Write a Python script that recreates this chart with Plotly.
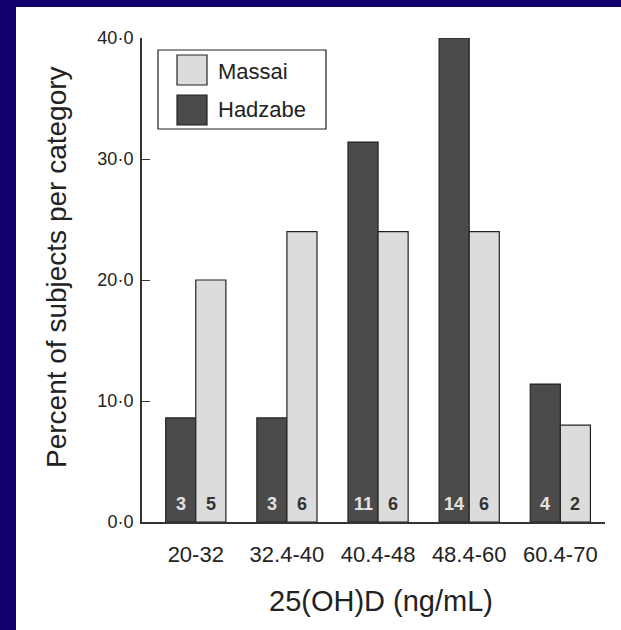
import plotly.graph_objects as go

# Vitamin D distribution by category
categories = ["20-32", "32.4-40", "40.4-48", "48.4-60", "60.4-70"]
hadzabe_pct = [8.6, 8.6, 31.4, 40.0, 11.4]
massai_pct = [20.0, 24.0, 24.0, 24.0, 8.0]
hadzabe_n = [3, 3, 11, 14, 4]
massai_n = [5, 6, 6, 6, 2]
y_ticks = [0, 10, 20, 30, 40]
y_ticklabels = ["0·0", "10·0", "20·0", "30·0", "40·0"]

W, H = 621, 630
ML, MR, MT, MB = 142, 16, 38, 108
PW, PH = W - ML - MR, H - MT - MB

def px_x(px):
    return (px - ML) / PW

def px_y(py):
    return (H - MB - py) / PH

DARK = "#4b4b4b"
LIGHT = "#dcdcdc"
EDGE = "#222222"
NAVY = "#14006c"
FONT = "Liberation Sans, Arial, sans-serif"
BARGAP = 0.34
BAR_W = (1 - BARGAP) / 2

xs = list(range(len(categories)))

fig = go.Figure()
fig.add_trace(go.Bar(
    x=xs, y=hadzabe_pct, name="Hadzabe",
    marker=dict(color=DARK, line=dict(color=EDGE, width=1.2)),
))
fig.add_trace(go.Bar(
    x=xs, y=massai_pct, name="Massai",
    marker=dict(color=LIGHT, line=dict(color=EDGE, width=1.2)),
))

shapes = []
# navy frame strips along top and left
shapes.append(dict(type="rect", xref="paper", yref="paper",
                   x0=px_x(0), x1=px_x(16), y0=px_y(0), y1=px_y(H),
                   fillcolor=NAVY, line=dict(width=0), layer="below"))
shapes.append(dict(type="rect", xref="paper", yref="paper",
                   x0=px_x(0), x1=px_x(W), y0=px_y(0), y1=px_y(7),
                   fillcolor=NAVY, line=dict(width=0), layer="below"))

# legend box
shapes.append(dict(type="rect", xref="paper", yref="paper",
                   x0=px_x(158), x1=px_x(326), y0=px_y(129), y1=px_y(50),
                   fillcolor="white", line=dict(color=EDGE, width=1.2)))
shapes.append(dict(type="rect", xref="paper", yref="paper",
                   x0=px_x(177), x1=px_x(207), y0=px_y(85), y1=px_y(55),
                   fillcolor=LIGHT, line=dict(color=EDGE, width=1.2)))
shapes.append(dict(type="rect", xref="paper", yref="paper",
                   x0=px_x(177), x1=px_x(207), y0=px_y(125), y1=px_y(95),
                   fillcolor=DARK, line=dict(color=EDGE, width=1.2)))

annotations = [
    dict(text="Massai", xref="paper", yref="paper", x=px_x(216), y=px_y(71),
         xanchor="left", yanchor="middle", showarrow=False,
         font=dict(family=FONT, size=22, color="#222")),
    dict(text="Hadzabe", xref="paper", yref="paper", x=px_x(216), y=px_y(110),
         xanchor="left", yanchor="middle", showarrow=False,
         font=dict(family=FONT, size=22, color="#222")),
    dict(text="Percent of subjects per category", xref="paper", yref="paper",
         x=px_x(56), y=px_y(267), textangle=-90, xanchor="center", yanchor="middle",
         showarrow=False, font=dict(family=FONT, size=28, color="#222")),
    dict(text="25(OH)D (ng/mL)", xref="paper", yref="paper",
         x=px_x(381), y=px_y(601), xanchor="center", yanchor="middle",
         showarrow=False, font=dict(family=FONT, size=29, color="#222")),
]

# subject counts printed at the base of each bar
for i in xs:
    annotations.append(dict(
        text=f"<b>{hadzabe_n[i]}</b>", x=i - BAR_W / 2, y=0, xref="x", yref="y",
        xanchor="center", yanchor="bottom", yshift=6, showarrow=False,
        font=dict(family=FONT, size=18, color="#e2e2e2")))
    annotations.append(dict(
        text=f"<b>{massai_n[i]}</b>", x=i + BAR_W / 2, y=0, xref="x", yref="y",
        xanchor="center", yanchor="bottom", yshift=6, showarrow=False,
        font=dict(family=FONT, size=18, color="#333333")))

fig.update_layout(
    width=W, height=H,
    margin=dict(l=ML, r=MR, t=MT, b=MB, pad=0),
    paper_bgcolor="white", plot_bgcolor="white",
    barmode="group", bargap=BARGAP, bargroupgap=0,
    showlegend=False,
    shapes=shapes, annotations=annotations,
    font=dict(family=FONT, color="#222"),
)
fig.update_xaxes(
    range=[-0.59, 4.49], tickvals=xs, ticktext=categories,
    showgrid=False, zeroline=False, showline=True, linecolor="#333", linewidth=2,
    ticks="", ticklabelstandoff=12,
    tickfont=dict(family=FONT, size=22, color="#222"),
)
fig.update_yaxes(
    range=[0, 40], tickvals=y_ticks, ticktext=y_ticklabels,
    showgrid=False, zeroline=False, showline=True, linecolor="#333", linewidth=2,
    ticks="inside", ticklen=8, tickcolor="#333", tickwidth=1.4,
    ticklabelstandoff=3,
    tickfont=dict(family=FONT, size=18, color="#222"),
)

fig.write_html("out.html")
